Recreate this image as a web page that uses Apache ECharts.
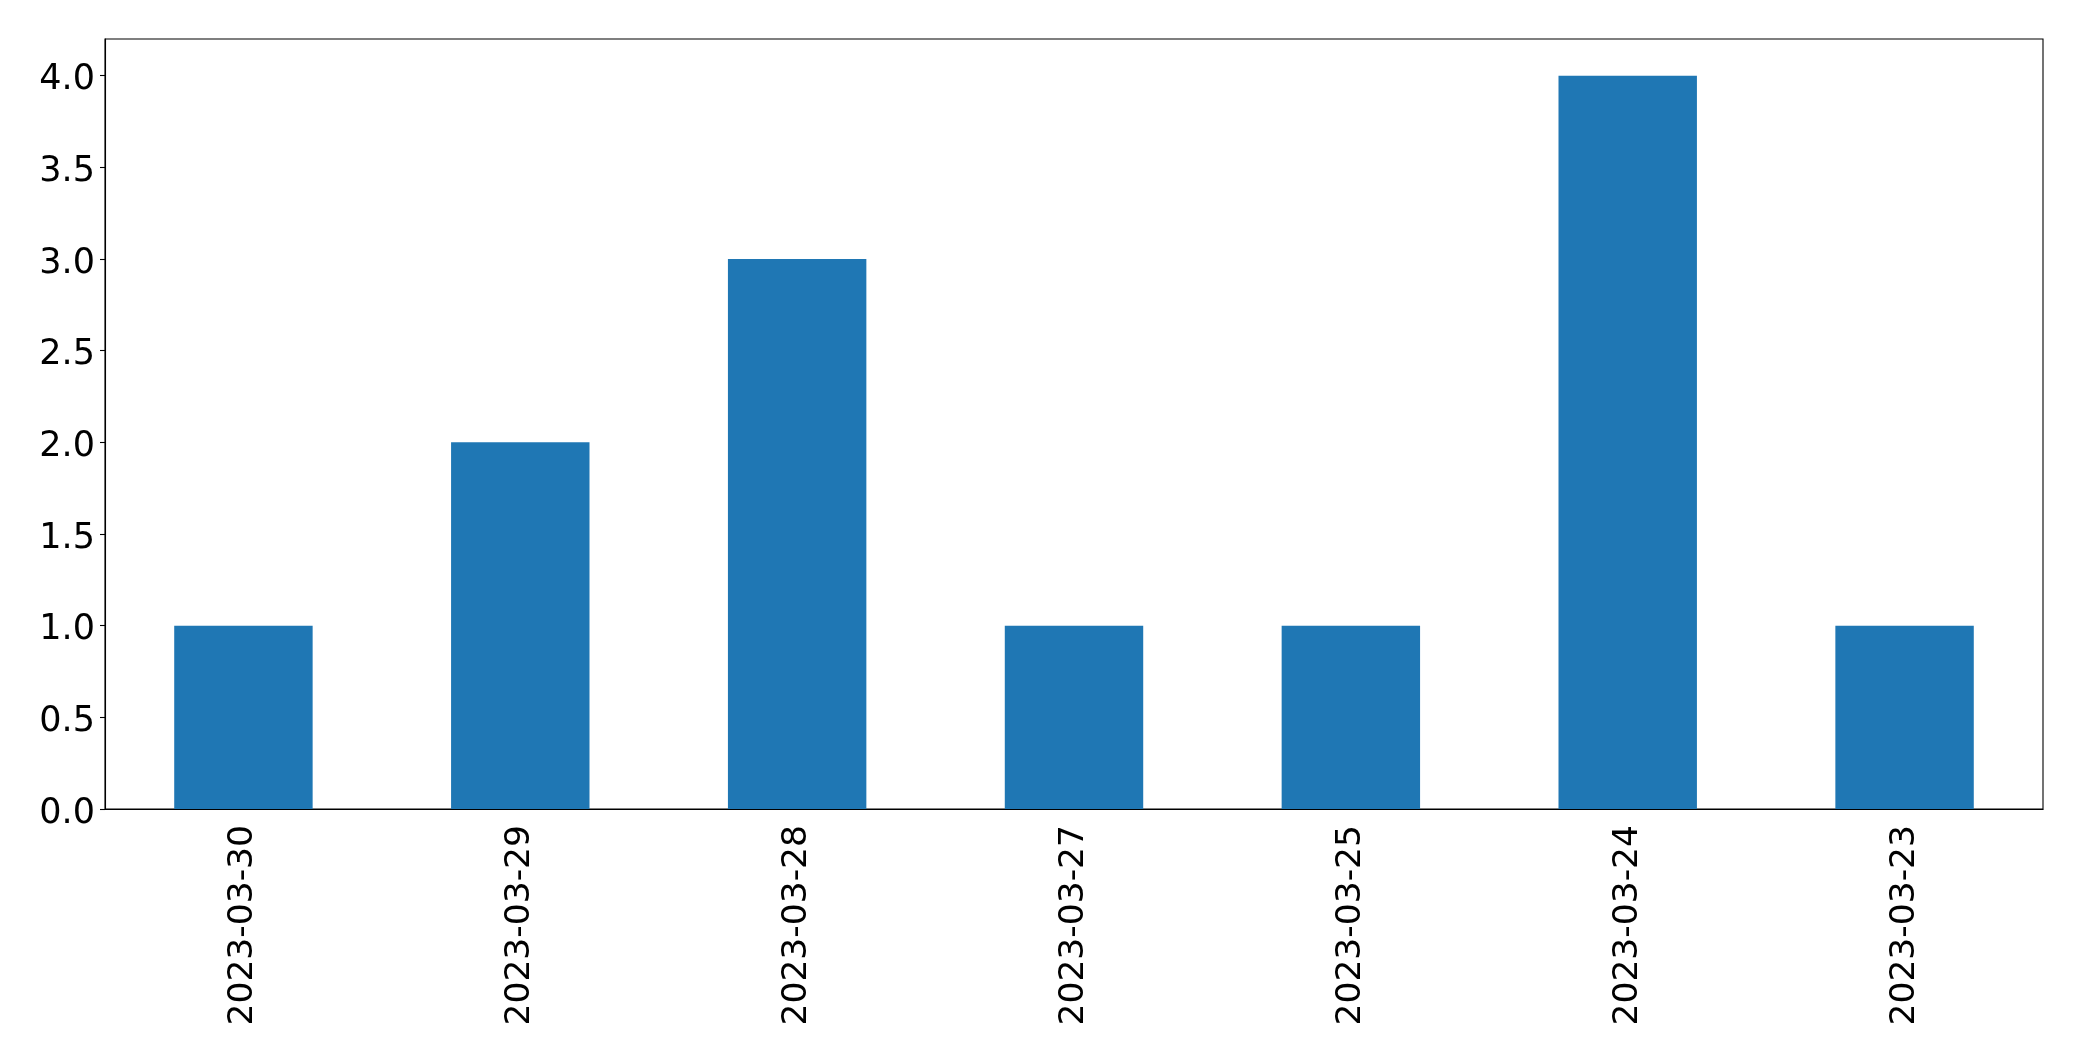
<!DOCTYPE html>
<html>
<head>
<meta charset="utf-8">
<script src="https://cdn.jsdelivr.net/npm/echarts@6/dist/echarts.min.js"></script>
<style>html,body{margin:0;padding:0;background:#fff;}#c{width:2082px;height:1061px;}</style>
</head>
<body>
<div id="c"></div>
<script>
const categories = ['2023-03-30','2023-03-29','2023-03-28','2023-03-27','2023-03-25','2023-03-24','2023-03-23'];
const values = [1, 2, 3, 1, 1, 4, 1];
const yTicks = [0, 0.5, 1.0, 1.5, 2.0, 2.5, 3.0, 3.5, 4.0];

const chart = echarts.init(document.getElementById('c'), null, {renderer: 'canvas'});
chart.setOption({
  animation: false,
  backgroundColor: '#ffffff',
  grid: {left: 105, right: 39, top: 39, bottom: 252, show: true, borderColor: '#000', borderWidth: 1.1, containLabel: false},
  xAxis: {
    type: 'category',
    data: categories,
    axisLine: {lineStyle: {color: '#000', width: 1.1}},
    axisTick: {alignWithLabel: true, length: 5, lineStyle: {color: '#000', width: 1.1}},
    axisLabel: {rotate: 90, fontSize: 34.5, color: '#000', fontFamily: 'DejaVu Sans', margin: 16, interval: 0}
  },
  yAxis: {
    type: 'value',
    min: 0, max: 4.2, interval: 0.5,
    splitLine: {show: false},
    axisLine: {show: true, lineStyle: {color: '#000', width: 1.1}},
    axisTick: {show: true, length: 5, customValues: yTicks, lineStyle: {color: '#000', width: 1.1}},
    axisLabel: {color: '#000', margin: 10, customValues: yTicks,
      formatter: v => '{v|' + v.toFixed(1) + '}',
      rich: {v: {fontSize: 35, color: '#000', fontFamily: 'DejaVu Sans', padding: [9, 0, 0, 0]}}}
  },
  series: [{
    type: 'bar',
    data: values,
    barWidth: '50%',
    itemStyle: {color: '#1f77b4'}
  }]
});
</script>
</body>
</html>
